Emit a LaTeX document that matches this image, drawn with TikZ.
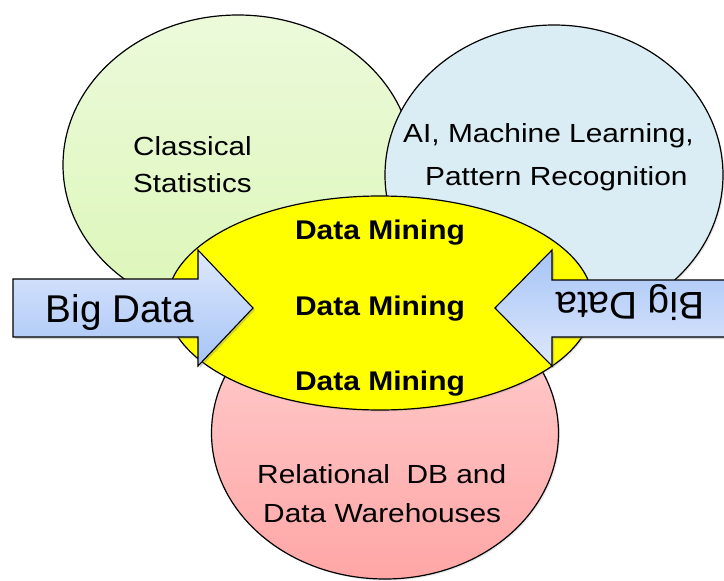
\documentclass[tikz,border=0pt]{standalone}
\usepackage{fontspec}
\setmainfont{Liberation Sans}
\usetikzlibrary{shapes.geometric,shadows}

\definecolor{greenTop}{RGB}{236,250,218}
\definecolor{greenBot}{RGB}{220,246,184}
\definecolor{blueFill}{RGB}{218,237,244}
\definecolor{redTop}{RGB}{255,210,210}
\definecolor{redBot}{RGB}{255,166,166}
\definecolor{dmYellow}{RGB}{255,255,0}
\definecolor{arrowLight}{RGB}{222,232,252}
\definecolor{arrowDeep}{RGB}{166,196,246}

\tikzset{
  field/.style={ellipse, draw=black, line width=1.2pt, inner sep=0pt,
    drop shadow={shadow xshift=1.5pt, shadow yshift=-1.5pt, opacity=0.18}},
  bigarrow/.style={draw=black, line width=1.1pt, line join=miter,
    drop shadow={shadow xshift=2pt, shadow yshift=-2pt, opacity=0.35}},
  lbl/.style={inner sep=0pt, anchor=base west, font=\fontsize{26.2}{32}\selectfont},
  dmlbl/.style={inner sep=0pt, anchor=base, font=\fontsize{27}{32}\selectfont\bfseries},
  bdlbl/.style={inner sep=0pt, anchor=base, font=\fontsize{38.7}{46}\selectfont}
}

\begin{document}
\begin{tikzpicture}[x=1pt,y=-1pt]
  \useasboundingbox (0,0) rectangle (724,581);
  \fill[white] (0,0) rectangle (724,581);
  \clip (0,0) rectangle (724,581);

  % the four overlapping fields
  \node[field, minimum width=350pt, minimum height=300pt,
        top color=greenTop, bottom color=greenBot] (stats) at (238,165) {};
  \node[field, minimum width=338pt, minimum height=300pt,
        fill=blueFill] (ml) at (554,175) {};
  \node[field, minimum width=347pt, minimum height=292pt,
        top color=redTop, bottom color=redBot] (db) at (385,433) {};
  \node[field, minimum width=426pt, minimum height=214pt,
        fill=dmYellow] (dm) at (380,303) {};

  % Big Data arrows pointing into the centre
  \draw[bigarrow, top color=arrowLight, bottom color=arrowDeep]
    (13,279) -- (198,279) -- (198,250) -- (253,308) -- (198,366)
    -- (198,337) -- (13,337) -- cycle;
  \draw[bigarrow, top color=arrowDeep, bottom color=arrowLight]
    (737,337) -- (552,337) -- (552,366) -- (495,308) -- (552,250)
    -- (552,280) -- (737,280) -- cycle;

  % field labels
  \node[lbl] (t1) at (133,155) {\scalebox{1.13}[1]{Classical}};
  \node[lbl] (t2) at (133,192) {\scalebox{1.13}[1]{Statistics}};
  \node[lbl] (t3) at (403,142) {\scalebox{1.14}[1]{AI, Machine Learning,}};
  \node[lbl] (t4) at (425,185) {\scalebox{1.14}[1]{Pattern Recognition}};
  \node[lbl] (t5) at (257,483) {\scalebox{1.14}[1]{Relational\ \ DB and}};
  \node[lbl] (t6) at (263,522) {\scalebox{1.14}[1]{Data Warehouses}};

  % data mining labels
  \node[dmlbl] (m1) at (380,239.5) {\scalebox{1.11}[1]{Data Mining}};
  \node[dmlbl] (m2) at (380,315) {\scalebox{1.11}[1]{Data Mining}};
  \node[dmlbl] (m3) at (380,390) {\scalebox{1.11}[1]{Data Mining}};

  % arrow labels
  \node[bdlbl] (b1) at (120,322.7) {Big Data};
  \node[bdlbl, rotate=180] (b2) at (630,292) {Big Data};
\end{tikzpicture}
\end{document}
